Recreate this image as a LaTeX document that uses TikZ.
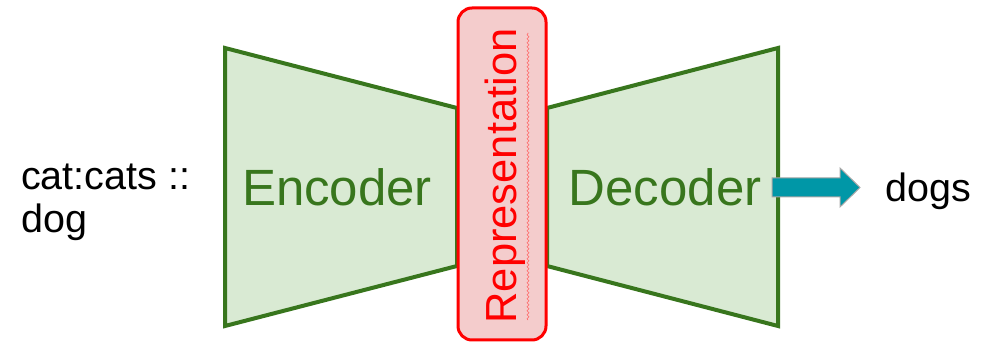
\documentclass[tikz,border=0pt]{standalone}
\usepackage{fontspec}
\setmainfont{Liberation Sans}
\usetikzlibrary{decorations.pathmorphing}
\definecolor{gfill}{HTML}{D9EAD3}
\definecolor{gline}{HTML}{38761D}
\definecolor{rfill}{HTML}{F4CCCC}
\definecolor{rline}{HTML}{FF0000}
\definecolor{teal1}{HTML}{0097A7}
\tikzset{
  trap/.style={fill=gfill,draw=gline,line width=4pt,line join=miter},
  bigtxt/.style={text=gline,font=\fontsize{51}{60}\selectfont,inner sep=0pt},
  sidetxt/.style={font=\fontsize{39.5}{43}\selectfont,inner sep=0pt,align=left},
  blockarrow/.style={fill=teal1,draw=gray!70,line width=1pt,line join=miter},
}
\begin{document}
\begin{tikzpicture}[x=1pt,y=1pt]
\useasboundingbox (0,0) rectangle (993,345);
% encoder
\draw[trap] (225,297) -- (457,237) -- (457,79) -- (225,19) -- cycle;
% decoder
\draw[trap] (547,237) -- (778,297) -- (778,19) -- (547,79) -- cycle;
\node[bigtxt] (enc) at (337,158) {Encoder};
\node[bigtxt] (dec) at (665,158) {Decoder};
% representation
\node[draw=rline,fill=rfill,line width=3pt,rounded corners=14pt,minimum width=88pt,minimum height=332pt,inner sep=0pt] (rep) at (502,171) {};
\node[rotate=90,text=rline,font=\fontsize{43.5}{50}\selectfont,inner sep=0pt] (reptxt) at (505,169) {Representation};
\draw[rline!60,line width=0.6pt,decorate,decoration={snake,amplitude=1pt,segment length=4pt}] (528,25) -- (528,312);
% arrow
\coordinate (a0) at (772,157.5);
\draw[blockarrow] (a0) ++(0,9.5) -- ++(68,0) -- ++(0,10) -- (860,157.5) -- (840,138) -- ++(0,10) -- ++(-68,0) -- cycle;
\node[sidetxt,anchor=west] (dogs) at (885,154) {dogs};
\node[sidetxt,anchor=west] (inp) at (21,143) {cat:cats ::\\dog};
\end{tikzpicture}
\end{document}
